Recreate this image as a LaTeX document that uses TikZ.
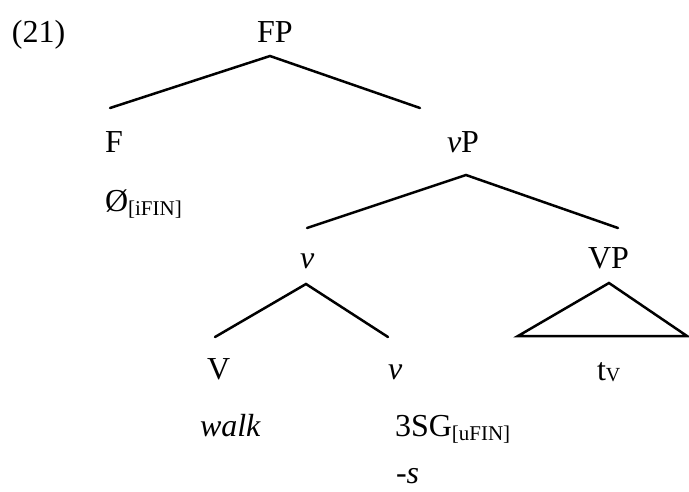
\documentclass[tikz,border=0pt]{standalone}
\usepackage{fontspec}
\setmainfont{Liberation Serif}
\tikzset{
  lbl/.style={anchor=base west, inner sep=0pt, outer sep=0pt, font=\fontsize{32}{38}\selectfont},
  branch/.style={line width=2.5pt, line cap=round},
}
\newcommand{\subtxt}[1]{\raisebox{-4pt}{\fontsize{21}{24}\selectfont #1}}
\begin{document}
\begin{tikzpicture}[x=1pt,y=-1pt]
\useasboundingbox (0,0) rectangle (689,491);
\node[lbl] (ex) at (12,42) {(21)};
\node[lbl] (FP) at (257,42) {FP};
\node[lbl] (F) at (105,152) {F};
\node[lbl] (Fnull) at (105,211) {Ø\subtxt{[iFIN]}};
\node[lbl] (vP) at (447,152) {\textit{v}P};
\node[lbl] (vbar) at (300,268) {\textit{v}};
\node[lbl] (VP) at (588,268) {VP};
\node[lbl] (V) at (207,379) {V};
\node[lbl] (vhead) at (388,379) {\textit{v}};
\node[lbl] (tV) at (597,380) {t\raisebox{-1pt}{\fontsize{20}{24}\selectfont V}};
\node[lbl] (walk) at (200,436) {\textit{walk}};
\node[lbl] (tsg) at (395,436) {3SG\subtxt{[uFIN]}};
\node[lbl] (suf) at (396,483) {-\textit{s}};

\coordinate (FPa) at (270,56);
\coordinate (FPl) at (110,108);
\coordinate (FPr) at (420,108);
\coordinate (vPa) at (466,175);
\coordinate (vPl) at (307,228);
\coordinate (vPr) at (618,228);
\coordinate (va) at (306,284);
\coordinate (vl) at (215,337);
\coordinate (vr) at (388,337);
\coordinate (VPa) at (609,283);
\coordinate (VPl) at (518,336);
\coordinate (VPr) at (687,336);

\draw[branch] (FPl) -- (FPa) -- (FPr);
\draw[branch] (vPl) -- (vPa) -- (vPr);
\draw[branch] (vl) -- (va) -- (vr);
\draw[branch, line join=miter] (VPl) -- (VPa) -- (VPr) -- cycle;
\end{tikzpicture}
\end{document}
